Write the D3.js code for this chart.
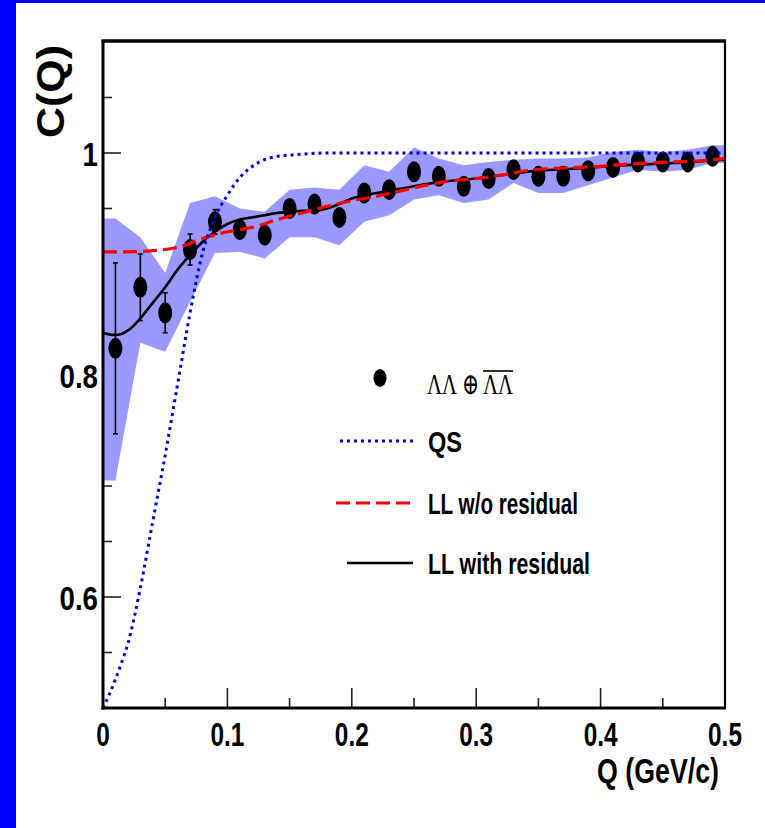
<!DOCTYPE html>
<html>
<head>
<meta charset="utf-8">
<script src="https://cdn.jsdelivr.net/npm/d3@7"></script>
<style>
  html, body { margin: 0; padding: 0; background: #fff; }
  svg { display: block; }
  text { font-family: "Liberation Sans", Arial, Helvetica, sans-serif; font-weight: bold; fill: #000; }
  text.sym { font-family: "Liberation Serif", "DejaVu Serif", serif; font-weight: normal; }
</style>
</head>
<body>
<svg id="chart" width="765" height="828"></svg>
<script>
// Lambda-Lambda correlation function C(Q)
const qBins = [0.01, 0.03, 0.05, 0.07, 0.09, 0.11, 0.13, 0.15, 0.17, 0.19, 0.21, 0.23, 0.25,
               0.27, 0.29, 0.31, 0.33, 0.35, 0.37, 0.39, 0.41, 0.43, 0.45, 0.47, 0.49];
const cValues = [0.824, 0.879, 0.856, 0.913, 0.938, 0.931, 0.926, 0.950, 0.954, 0.942, 0.964, 0.967, 0.983,
                 0.979, 0.970, 0.977, 0.985, 0.979, 0.979, 0.984, 0.987, 0.992, 0.992, 0.992, 0.997];
const cStatErr = [0.077, 0.030, 0.018, 0.014, 0.011, 0.008, 0.008, 0.007, 0.007, 0.007, 0.006, 0.006, 0.006,
                  0.006, 0.005, 0.005, 0.005, 0.005, 0.005, 0.005, 0.004, 0.004, 0.004, 0.004, 0.004];
// systematic band (lower / upper edge at each bin)
const sysLow  = [0.705, 0.829, 0.821, 0.866, 0.910, 0.911, 0.905, 0.924, 0.924, 0.917, 0.938, 0.944, 0.958,
                 0.962, 0.955, 0.958, 0.973, 0.964, 0.964, 0.971, 0.978, 0.985, 0.983, 0.985, 0.991];
const sysHigh = [0.941, 0.924, 0.892, 0.955, 0.961, 0.950, 0.947, 0.967, 0.969, 0.967, 0.989, 0.983, 1.005,
                 0.995, 0.989, 0.992, 0.994, 0.995, 0.995, 0.996, 1.001, 1.003, 1.001, 1.003, 1.007];

// quantum-statistics only curve
const qsQ = [0.000, 0.005, 0.010, 0.015, 0.020, 0.030, 0.040, 0.050, 0.060, 0.070, 0.080, 0.090,
             0.100, 0.110, 0.120, 0.130, 0.140, 0.150, 0.160, 0.180, 0.200, 0.300, 0.400, 0.500];
const qsC = [0.500, 0.512, 0.526, 0.541, 0.558, 0.608, 0.668, 0.728, 0.792, 0.856, 0.910, 0.942,
             0.962, 0.978, 0.988, 0.994, 0.997, 0.998, 0.999, 1.000, 1.000, 1.000, 1.000, 1.000];

// Lednicky-Lyuboshitz fit without residual correlations
const llQ = [0.00, 0.02, 0.04, 0.06, 0.08, 0.10, 0.12, 0.14, 0.16, 0.18, 0.20, 0.22, 0.24,
             0.26, 0.28, 0.30, 0.32, 0.34, 0.36, 0.38, 0.40, 0.42, 0.44, 0.46, 0.48, 0.50];
const llC = [0.911, 0.911, 0.912, 0.915, 0.923, 0.929, 0.933, 0.940, 0.946, 0.952, 0.957, 0.961, 0.966,
             0.971, 0.975, 0.977, 0.980, 0.984, 0.986, 0.987, 0.988, 0.990, 0.991, 0.992, 0.993, 0.995];

// Lednicky-Lyuboshitz fit with residual correlations
const llrQ = [0.00, 0.01, 0.02, 0.03, 0.04, 0.05, 0.06, 0.07, 0.08, 0.09, 0.10, 0.11, 0.12, 0.13,
              0.14, 0.15, 0.16, 0.17, 0.18, 0.19, 0.20, 0.22, 0.24, 0.26, 0.28, 0.30, 0.34, 0.38,
              0.42, 0.46, 0.50];
const llrC = [0.838, 0.836, 0.840, 0.851, 0.865, 0.879, 0.895, 0.908, 0.920, 0.929, 0.936, 0.940, 0.942, 0.944,
              0.946, 0.947, 0.948, 0.948, 0.950, 0.954, 0.959, 0.964, 0.968, 0.972, 0.975, 0.977, 0.983, 0.986,
              0.989, 0.991, 0.994];

const xMajorTicks = [0, 0.1, 0.2, 0.3, 0.4, 0.5];
const xMinorTicks = [0.05, 0.15, 0.25, 0.35, 0.45];
const yMajorTicks = [0.6, 0.8, 1.0];
const yMinorTicks = [0.55, 0.65, 0.7, 0.75, 0.85, 0.9, 0.95, 1.05];

const legendLabels = ["QS", "LL w/o residual", "LL with residual"];

const svg = d3.select("#chart");
const W = 765, H = 828;
const plot = { left: 103, right: 725, top: 42, bottom: 708 };

const x = d3.scaleLinear().domain([0, 0.5]).range([plot.left, plot.right]);
const y = d3.scaleLinear().domain([0.5, 1.1]).range([plot.bottom, plot.top]);

// page background and blue frame strips
svg.append("rect").attr("width", W).attr("height", H).attr("fill", "#fff");
svg.append("rect").attr("x", 0).attr("y", 0).attr("width", 16).attr("height", H).attr("fill", "#0000ff");
svg.append("rect").attr("x", 0).attr("y", 0).attr("width", W).attr("height", 3).attr("fill", "#0000ff");

svg.append("defs").append("clipPath").attr("id", "plotClip")
  .append("rect").attr("x", plot.left).attr("y", plot.top)
  .attr("width", plot.right - plot.left).attr("height", plot.bottom - plot.top);

// ticks (drawn first, the band covers them)
const tickG = svg.append("g").attr("stroke", "#222").attr("stroke-width", 1.6);
tickG.selectAll(".xmaj").data(xMajorTicks).join("line")
  .attr("x1", d => x(d)).attr("x2", d => x(d)).attr("y1", plot.bottom).attr("y2", plot.bottom - 20);
tickG.selectAll(".xmin").data(xMinorTicks).join("line")
  .attr("x1", d => x(d)).attr("x2", d => x(d)).attr("y1", plot.bottom).attr("y2", plot.bottom - 10);
tickG.selectAll(".ymaj").data(yMajorTicks).join("line")
  .attr("y1", d => y(d)).attr("y2", d => y(d)).attr("x1", plot.left).attr("x2", plot.left + 18);
tickG.selectAll(".ymin").data(yMinorTicks).join("line")
  .attr("y1", d => y(d)).attr("y2", d => y(d)).attr("x1", plot.left).attr("x2", plot.left + 9);

const g = svg.append("g").attr("clip-path", "url(#plotClip)");

// systematic band, extended flat to the histogram edges
const band = [{ q: 0, lo: sysLow[0], hi: sysHigh[0] }]
  .concat(qBins.map((q, i) => ({ q, lo: sysLow[i], hi: sysHigh[i] })))
  .concat([{ q: 0.5, lo: sysLow[sysLow.length - 1], hi: sysHigh[sysHigh.length - 1] }]);
g.append("path").datum(band)
  .attr("fill", "#9999ff")
  .attr("d", d3.area().x(d => x(d.q)).y0(d => y(d.lo)).y1(d => y(d.hi)));

// data points with statistical errors
const pts = qBins.map((q, i) => ({ q, c: cValues[i], e: cStatErr[i] }));
const errG = g.append("g").attr("stroke", "#000").attr("stroke-width", 1.6);
errG.selectAll(".bar").data(pts).join("line")
  .attr("x1", d => x(d.q)).attr("x2", d => x(d.q))
  .attr("y1", d => y(d.c - d.e)).attr("y2", d => y(d.c + d.e));
errG.selectAll(".capT").data(pts).join("line")
  .attr("x1", d => x(d.q) - 2.5).attr("x2", d => x(d.q) + 2.5)
  .attr("y1", d => y(d.c + d.e)).attr("y2", d => y(d.c + d.e));
errG.selectAll(".capB").data(pts).join("line")
  .attr("x1", d => x(d.q) - 2.5).attr("x2", d => x(d.q) + 2.5)
  .attr("y1", d => y(d.c - d.e)).attr("y2", d => y(d.c - d.e));
g.selectAll(".pt").data(pts).join("ellipse")
  .attr("cx", d => x(d.q)).attr("cy", d => y(d.c))
  .attr("rx", 7).attr("ry", 10.5).attr("fill", "#000");

// fit curves
const curve = d3.line().x(d => x(d[0])).y(d => y(d[1])).curve(d3.curveMonotoneX);
const styles = {
  qs:  { stroke: "#0000dd", width: 3, dash: "3,4" },
  ll:  { stroke: "#ff0000", width: 3.2, dash: "14,6" },
  llr: { stroke: "#000000", width: 2.6, dash: null }
};
function drawCurve(qs, cs, st) {
  g.append("path").datum(qs.map((q, i) => [q, cs[i]]))
    .attr("fill", "none").attr("stroke", st.stroke).attr("stroke-width", st.width)
    .attr("stroke-dasharray", st.dash).attr("d", curve);
}
drawCurve(llrQ, llrC, styles.llr);
drawCurve(llQ, llC, styles.ll);
drawCurve(qsQ, qsC, styles.qs);

// frame
const fr = svg.append("g").attr("stroke", "#000").attr("fill", "none");
fr.append("line").attr("x1", plot.left - 1.5).attr("x2", plot.right + 1).attr("y1", plot.top - 1).attr("y2", plot.top - 1).attr("stroke-width", 3.5);
fr.append("line").attr("x1", plot.right).attr("x2", plot.right).attr("y1", plot.top - 2).attr("y2", plot.bottom).attr("stroke-width", 2.2);
fr.append("line").attr("x1", plot.left).attr("x2", plot.left).attr("y1", plot.top - 2).attr("y2", plot.bottom + 1.5).attr("stroke-width", 3);
fr.append("line").attr("x1", plot.left - 1.5).attr("x2", plot.right + 1).attr("y1", plot.bottom).attr("y2", plot.bottom).attr("stroke-width", 3);

// tick labels
const fmt = d => d === 0 ? "0" : (d === 1 ? "1" : d3.format(".1f")(d));
svg.selectAll(".xlab").data(xMajorTicks).join("text")
  .attr("transform", d => `translate(${x(d)},746) scale(0.74,1)`)
  .attr("text-anchor", "middle").attr("font-size", 33).text(fmt);
svg.selectAll(".ylab").data(yMajorTicks).join("text")
  .attr("transform", d => `translate(98,${y(d) + 12.5}) scale(0.84,1)`)
  .attr("text-anchor", "end").attr("font-size", 33).text(fmt);

// axis titles
svg.append("text").attr("x", 719).attr("y", 783).attr("text-anchor", "end")
  .attr("font-size", 35).attr("textLength", 122).attr("lengthAdjust", "spacingAndGlyphs")
  .text("Q (GeV/c)");
svg.append("text").attr("transform", "translate(64,45) rotate(-90)").attr("text-anchor", "end")
  .attr("font-size", 38).attr("textLength", 93).attr("lengthAdjust", "spacingAndGlyphs")
  .text("C(Q)");

// legend
const lg = svg.append("g");
lg.append("ellipse").attr("cx", 380).attr("cy", 378).attr("rx", 6.5).attr("ry", 9).attr("fill", "#000");
const sym = lg.append("text").attr("class", "sym").attr("x", 427).attr("y", 394)
  .attr("font-size", 30).attr("textLength", 86).attr("lengthAdjust", "spacingAndGlyphs")
  .text("\u039B\u039B \u2295 \u039B\u039B");
const symNode = sym.node();
const ox1 = symNode.getStartPositionOfChar(5).x;
const ox2 = symNode.getEndPositionOfChar(6).x;
lg.append("line").attr("x1", ox1).attr("x2", ox2).attr("y1", 371).attr("y2", 371)
  .attr("stroke", "#000").attr("stroke-width", 1.6);

const legendRows = [
  { label: legendLabels[0], st: styles.qs,  y: 441, len: 34, x0: 340 },
  { label: legendLabels[1], st: styles.ll,  y: 503, len: 150, x0: 336 },
  { label: legendLabels[2], st: styles.llr, y: 563, len: 162, x0: 347 }
];
legendRows.forEach(r => {
  lg.append("line").attr("x1", r.x0).attr("x2", 413).attr("y1", r.y).attr("y2", r.y)
    .attr("stroke", r.st.stroke).attr("stroke-width", r.st.width).attr("stroke-dasharray", r.st.dash);
  lg.append("text").attr("x", 428).attr("y", r.y + 11)
    .attr("font-size", 30).attr("textLength", r.len).attr("lengthAdjust", "spacingAndGlyphs")
    .text(r.label);
});
</script>
</body>
</html>
